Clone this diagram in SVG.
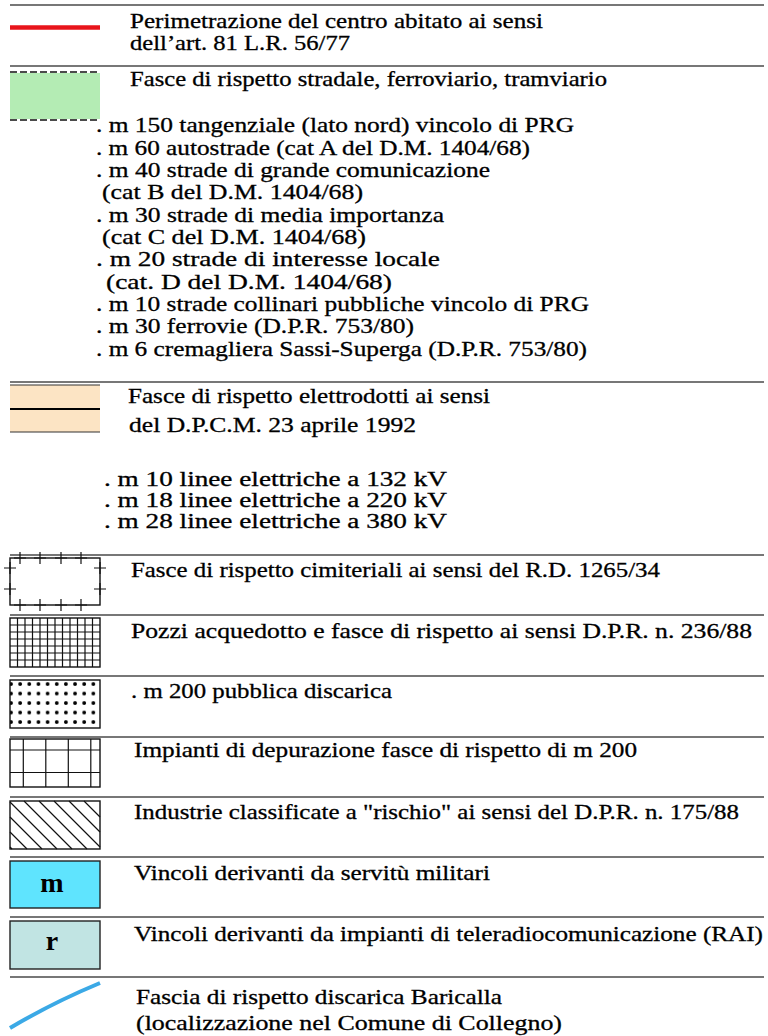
<svg xmlns="http://www.w3.org/2000/svg" width="768" height="1036" viewBox="0 0 768 1036">
<style>
.t{font-family:"Liberation Serif","DejaVu Serif","Times New Roman",serif;font-size:21px;fill:#000;stroke:#000;stroke-width:0.3;}
.t2{font-size:20px;}
.lbl{font-family:"Liberation Serif","DejaVu Serif","Times New Roman",serif;font-size:28px;font-weight:bold;fill:#000;text-anchor:middle;}
.sep{stroke:#4a4a4a;stroke-width:1.5;fill:none;}
.box{fill:none;stroke:#111;stroke-width:1.4;}
.ln{fill:none;stroke:#111;stroke-width:1.2;}
</style>
<rect x="0" y="0" width="768" height="1036" fill="#fff"/>
<g id="separators">
<line class="sep" x1="10" y1="5" x2="764" y2="5"/>
<line class="sep" x1="10" y1="66" x2="764" y2="66"/>
<line class="sep" x1="10" y1="382" x2="764" y2="382"/>
<line class="sep" x1="10" y1="555" x2="764" y2="555"/>
<line class="sep" x1="10" y1="615" x2="764" y2="615"/>
<line class="sep" x1="10" y1="676" x2="764" y2="676"/>
<line class="sep" x1="10" y1="737" x2="764" y2="737"/>
<line class="sep" x1="10" y1="797" x2="764" y2="797"/>
<line class="sep" x1="10" y1="857" x2="764" y2="857"/>
<line class="sep" x1="10" y1="917" x2="764" y2="917"/>
<line class="sep" x1="10" y1="977" x2="764" y2="977"/>
</g>
<g id="perimetrazione" font-family="Liberation Serif, DejaVu Serif, serif">
<line x1="10" y1="27.5" x2="100" y2="27.5" stroke="#e8141b" stroke-width="4.5"/>
<text class="t" x="130" y="28" textLength="413" lengthAdjust="spacingAndGlyphs">Perimetrazione del centro abitato ai sensi</text>
<text class="t" x="130" y="50" textLength="220" lengthAdjust="spacingAndGlyphs">dell’art. 81 L.R. 56/77</text>
</g>
<g id="stradale">
<rect x="10" y="73" width="90" height="46" fill="#b4ecb4"/>
<line x1="10" y1="72" x2="100" y2="72" stroke="#111" stroke-width="1.4" stroke-dasharray="7 3"/>
<line x1="10" y1="120" x2="100" y2="120" stroke="#111" stroke-width="1.4" stroke-dasharray="7 3"/>
<text class="t" x="130" y="86" textLength="477" lengthAdjust="spacingAndGlyphs">Fasce di rispetto stradale, ferroviario, tramviario</text>
<text class="t" x="96" y="132" textLength="478" lengthAdjust="spacingAndGlyphs">. m 150 tangenziale (lato nord) vincolo di PRG</text>
<text class="t" x="96" y="154.5" textLength="434" lengthAdjust="spacingAndGlyphs">. m 60 autostrade (cat A del D.M. 1404/68)</text>
<text class="t" x="96" y="177" textLength="394" lengthAdjust="spacingAndGlyphs">. m 40 strade di grande comunicazione</text>
<text class="t" x="102" y="199" textLength="261" lengthAdjust="spacingAndGlyphs">(cat B del D.M. 1404/68)</text>
<text class="t" x="96" y="221.5" textLength="348" lengthAdjust="spacingAndGlyphs">. m 30 strade di media importanza</text>
<text class="t" x="102" y="244" textLength="264" lengthAdjust="spacingAndGlyphs">(cat C del D.M. 1404/68)</text>
<text class="t" x="96" y="266" textLength="344" lengthAdjust="spacingAndGlyphs">. m 20 strade di interesse locale</text>
<text class="t" x="106" y="288.5" textLength="286" lengthAdjust="spacingAndGlyphs">(cat. D del D.M. 1404/68)</text>
<text class="t" x="96" y="311" textLength="493" lengthAdjust="spacingAndGlyphs">. m 10 strade collinari pubbliche vincolo di PRG</text>
<text class="t" x="96" y="333" textLength="318" lengthAdjust="spacingAndGlyphs">. m 30 ferrovie (D.P.R. 753/80)</text>
<text class="t" x="96" y="355.5" textLength="491" lengthAdjust="spacingAndGlyphs">. m 6 cremagliera Sassi-Superga (D.P.R. 753/80)</text>
</g>
<g id="elettrodotti">
<rect x="10" y="385" width="90" height="47" fill="#fce4c4"/>
<line x1="10" y1="385" x2="100" y2="385" stroke="#333" stroke-width="1.2"/>
<line x1="10" y1="409" x2="100" y2="409" stroke="#000" stroke-width="2"/>
<line x1="10" y1="432" x2="100" y2="432" stroke="#333" stroke-width="1.2"/>
<text class="t" x="128" y="403" textLength="362" lengthAdjust="spacingAndGlyphs">Fasce di rispetto elettrodotti ai sensi</text>
<text class="t" x="129" y="432" textLength="287" lengthAdjust="spacingAndGlyphs">del D.P.C.M. 23 aprile 1992</text>
<text class="t t2" x="104" y="486" textLength="343" lengthAdjust="spacingAndGlyphs">. m 10 linee elettriche a 132 kV</text>
<text class="t t2" x="104" y="507" textLength="343" lengthAdjust="spacingAndGlyphs">. m 18 linee elettriche a 220 kV</text>
<text class="t t2" x="104" y="528" textLength="343" lengthAdjust="spacingAndGlyphs">. m 28 linee elettriche a 380 kV</text>
</g>
<g id="cimiteriali">
<rect class="box" x="10" y="558" width="90" height="47"/>
<path class="ln" stroke-width="1.7" d="M14,558h12M20,552v12M34,558h12M40,552v12M55,558h12M61,552v12M75,558h12M81,552v12M14,605h12M20,599v12M34,605h12M40,599v12M55,605h12M61,599v12M75,605h12M81,599v12M4,568h12M10,562v12M4,589h12M10,583v12M94,568h12M100,562v12M94,589h12M100,583v12"/>
<text class="t" x="131" y="577" textLength="529" lengthAdjust="spacingAndGlyphs">Fasce di rispetto cimiteriali ai sensi del R.D. 1265/34</text>
</g>
<g id="pozzi">
<rect class="box" x="10" y="618" width="90" height="49"/>
<path class="ln" stroke-width="1.1" d="M17.5,618V667M25,618V667M32.5,618V667M40,618V667M47.5,618V667M55,618V667M62.5,618V667M70,618V667M77.5,618V667M85,618V667M92.5,618V667M10,625H100M10,632H100M10,639H100M10,646H100M10,653H100M10,660H100"/>
<text class="t" x="131" y="638" textLength="621" lengthAdjust="spacingAndGlyphs">Pozzi acquedotto e fasce di rispetto ai sensi D.P.R. n. 236/88</text>
</g>
<g id="discarica">
<defs>
<pattern id="dots" x="6.4" y="679.3" width="9.15" height="9.5" patternUnits="userSpaceOnUse">
<circle cx="4.6" cy="4.7" r="1.9" fill="#000"/>
</pattern>
</defs>
<rect x="10" y="680" width="90" height="48" fill="url(#dots)"/>
<rect class="box" x="10" y="680" width="90" height="48"/>
<text class="t" x="131" y="698" textLength="261" lengthAdjust="spacingAndGlyphs">. m 200 pubblica discarica</text>
</g>
<g id="depurazione">
<rect class="box" x="10" y="739" width="90" height="48"/>
<path class="ln" d="M23.3,739V787M45.8,739V787M68.3,739V787M90.8,739V787M10,750H100M10,772.5H100"/>
<text class="t" x="134" y="757" textLength="503" lengthAdjust="spacingAndGlyphs">Impianti di depurazione fasce di rispetto di m 200</text>
</g>
<g id="rischio">
<rect class="box" x="10" y="801" width="90" height="48"/>
<path class="ln" stroke-width="1.1" d="M10,847L12,849M10,832L27,849M10,817L42,849M10,802L57,849M24,801L72,849M39,801L87,849M54,801L100,847M69,801L100,832M84,801L100,817"/>
<text class="t" x="134" y="819" textLength="605" lengthAdjust="spacingAndGlyphs">Industrie classificate a "rischio" ai sensi del D.P.R. n. 175/88</text>
</g>
<g id="militari">
<rect x="10" y="861" width="90" height="47" fill="#5fe4fe" stroke="#222" stroke-width="1.4"/>
<text class="lbl" x="52" y="891.5">m</text>
<text class="t" x="134" y="880" textLength="356" lengthAdjust="spacingAndGlyphs">Vincoli derivanti da servitù militari</text>
</g>
<g id="rai">
<rect x="10" y="921" width="90" height="48" fill="#c1e4e3" stroke="#222" stroke-width="1.4"/>
<text class="lbl" x="52" y="950">r</text>
<text class="t" x="134" y="940.5" textLength="629" lengthAdjust="spacingAndGlyphs">Vincoli derivanti da impianti di teleradiocomunicazione (RAI)</text>
</g>
<g id="baricalla">
<path d="M10,1028Q52,1003 100,983" fill="none" stroke="#3ba9e6" stroke-width="4"/>
<text class="t" x="136" y="1004" textLength="366" lengthAdjust="spacingAndGlyphs">Fascia di rispetto discarica Baricalla</text>
<text class="t" x="136" y="1030" textLength="426" lengthAdjust="spacingAndGlyphs">(localizzazione nel Comune di Collegno)</text>
</g>
</svg>
